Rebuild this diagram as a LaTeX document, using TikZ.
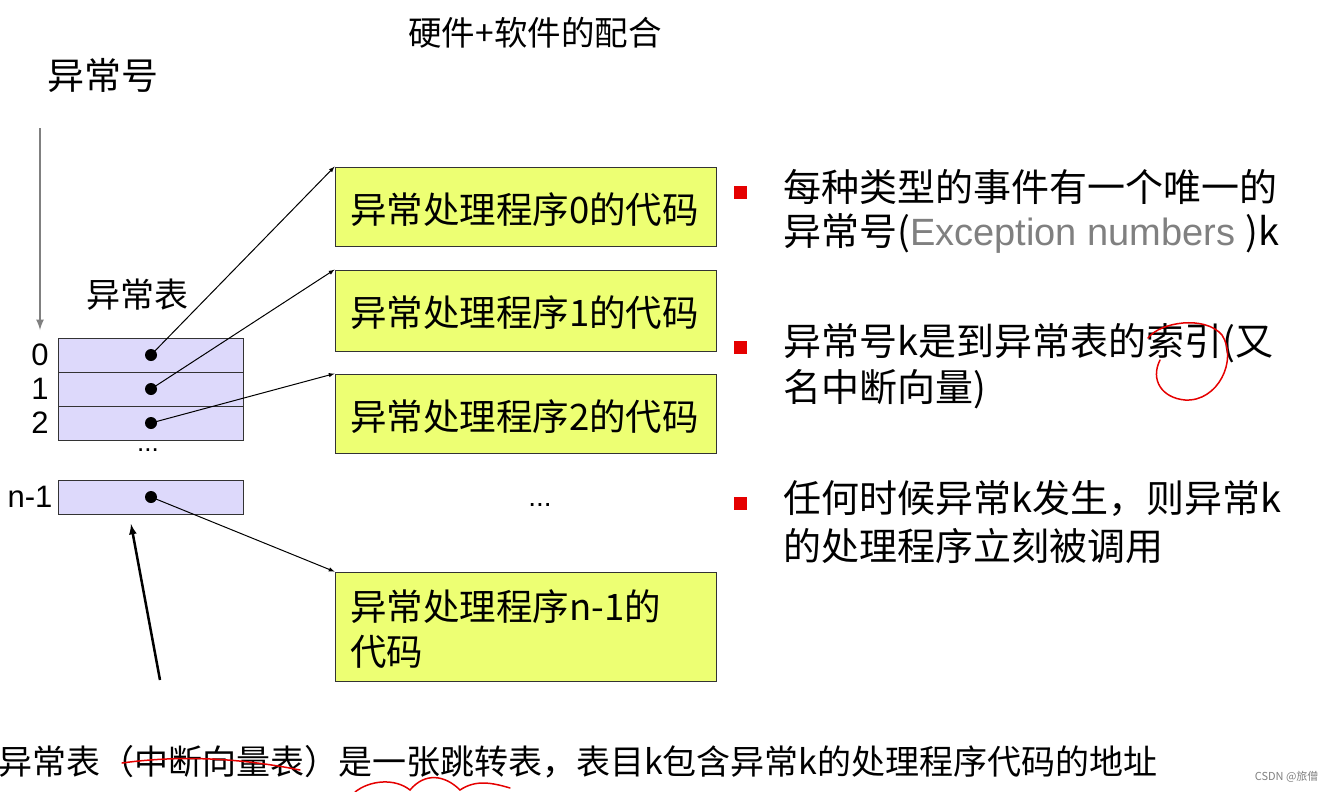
\documentclass[tikz,border=0pt]{standalone}
\usepackage{fontspec}
\setmainfont{Liberation Serif}
\newfontfamily\cjk{Noto Sans CJK SC}
\newfontfamily\lsans{Liberation Sans}
\begin{document}
\begin{tikzpicture}[x=1pt,y=-1pt,
 tab/.style={draw=black!80,fill=violet!20!blue!15,line width=0.8pt},
 hbox/.style={draw=black!80,fill=lime!50!yellow!55,line width=0.8pt},
 txt/.style={font=\cjk\fontsize{36.5}{40}\selectfont,inner sep=0pt,anchor=west},
 ptr/.style={-latex,line width=1pt},
 dotc/.style={circle,fill=black,inner sep=0pt,minimum size=12pt},
 bul/.style={fill=red!90!black,minimum size=13pt,inner sep=0pt},
 ann/.style={red!90!black,line width=1.5pt,line cap=round}]
\useasboundingbox (0,0) rectangle (1333,792);
\node[font=\cjk\fontsize{33.5}{36}\selectfont] (title) at (535,33) {硬件+软件的配合};
\node[font=\cjk\fontsize{37}{40}\selectfont] (num) at (103,75) {异常号};
\coordinate (ga) at (40,128); \coordinate (gb) at (40,330);
\draw[-latex,gray,line width=2.5pt] (ga) -- (gb);
\node[font=\cjk\fontsize{34}{40}\selectfont] (tt) at (137,295) {异常表};
\node[tab,minimum width=185pt,minimum height=34pt,inner sep=0pt] (r0) at (150.5,355) {};
\node[tab,minimum width=185pt,minimum height=34pt,inner sep=0pt] (r1) at (150.5,389) {};
\node[tab,minimum width=185pt,minimum height=34pt,inner sep=0pt] (r2) at (150.5,423) {};
\node[tab,minimum width=185pt,minimum height=34pt,inner sep=0pt] (rn) at (150.5,497) {};
\foreach \i/\y in {0/355,1/389,2/423}{\node[font=\lsans\fontsize{31}{34}\selectfont] (l\i) at (40,\y) {\i};}
\node[font=\lsans\fontsize{31}{34}\selectfont] (ln) at (30,497) {n-1};
\node[font=\lsans\fontsize{26}{30}\selectfont] (dd) at (148,450) {...};
\node[dotc] (d0) at (151,355) {}; \node[dotc] (d1) at (151,389) {};
\node[dotc] (d2) at (151,423) {}; \node[dotc] (dn) at (151,497) {};
\node[hbox,minimum width=381pt,minimum height=79pt,inner sep=0pt] (b0) at (525.5,206.5) {};
\node[hbox,minimum width=381pt,minimum height=81pt,inner sep=0pt] (b1) at (525.5,310.5) {};
\node[hbox,minimum width=381pt,minimum height=79pt,inner sep=0pt] (b2) at (525.5,413.5) {};
\node[hbox,minimum width=381pt,minimum height=109pt,inner sep=0pt] (bn) at (525.5,626.5) {};
\node[txt] (t0) at (350,210) {异常处理程序0的代码};
\node[txt] (t1) at (350,313) {异常处理程序1的代码};
\node[txt] (t2) at (350,417) {异常处理程序2的代码};
\node[txt] (tn1) at (350,607) {异常处理程序n-1的};
\node[txt] (tn2) at (350,652) {代码};
\draw[ptr] (d0.center) -- (b0.north west);
\draw[ptr] (d1.center) -- (b1.north west);
\draw[ptr] (d2.center) -- (b2.north west);
\draw[ptr] (dn.center) -- (bn.north west);
\node[font=\lsans\fontsize{28}{30}\selectfont] (md) at (540,505) {...};
\coordinate (ka) at (160,680); \coordinate (kb) at (131,524);
\draw[-latex,line width=2.5pt] (ka) -- (kb);
\node[bul] (s1) at (740,192) {}; \node[bul] (s2) at (740,347) {}; \node[bul] (s3) at (740,503) {};
\begin{scope}[every node/.style={txt,font=\cjk\fontsize{38}{40}\selectfont}]
\node (p1) at (783,187) {每种类型的事件有一个唯一的};
\node (p2) at (783,233) {异常号(\textcolor{gray}{\lsans Exception numbers })k};
\node (p3) at (783,343) {异常号k是到异常表的索引(又};
\node (p4) at (783,389) {名中断向量)};
\node (p5) at (783,498) {任何时候异常k发生，则异常k};
\node (p6) at (783,546) {的处理程序立刻被调用};
\node (bt) at (-2,762) {\fontsize{34}{40}\selectfont 异常表（中断向量表）是一张跳转表，表目k包含异常k的处理程序代码的地址};
\end{scope}
\node[anchor=east,font=\cjk\fontsize{11}{13}\selectfont,text=gray] (cs) at (1322,777) {CSDN @旅僧};
\draw[ann] (1148,338) .. controls (1160,322) and (1205,315) .. (1222,335) .. controls (1238,360) and (1218,402) .. (1185,400) .. controls (1162,398) and (1150,380) .. (1160,360);
\draw[ann] (122,763) .. controls (180,755) and (240,758) .. (300,770);
\draw[ann] (355,792) .. controls (370,780) and (395,778) .. (410,790) .. controls (425,772) and (445,775) .. (460,790) .. controls (475,780) and (490,782) .. (510,788);
\end{tikzpicture}
\end{document}
